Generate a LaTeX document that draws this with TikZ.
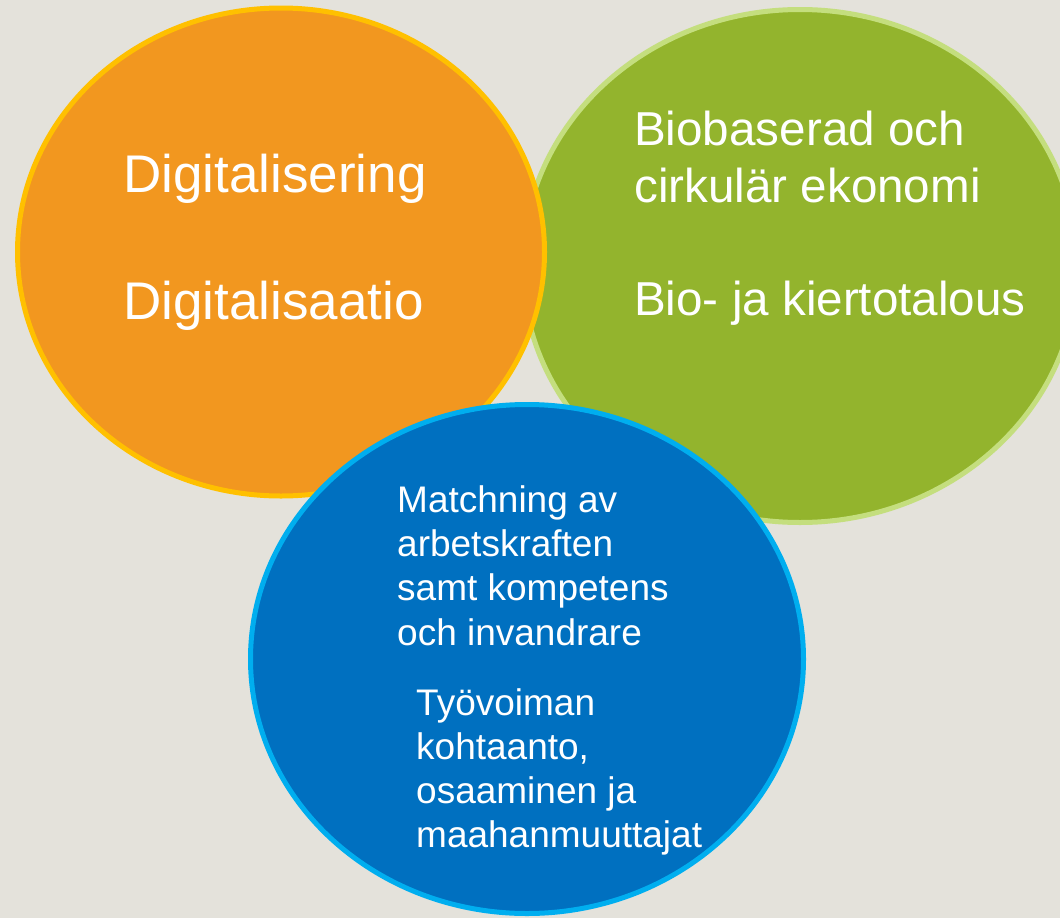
\documentclass[tikz,border=0pt]{standalone}
\usepackage{fontspec}
\setmainfont{Liberation Sans}
\definecolor{bg}{HTML}{E4E2DB}
\definecolor{orfill}{HTML}{F2971F}
\definecolor{orline}{HTML}{FFC000}
\definecolor{grfill}{HTML}{93B42D}
\definecolor{grline}{HTML}{C4DE7E}
\definecolor{blfill}{HTML}{0070C0}
\definecolor{blline}{HTML}{00AEEF}
\tikzset{
  blob/.style={line width=5pt},
  lbl/.style={anchor=base west, inner sep=0pt, text=white},
  big/.style={lbl, font=\fontsize{53}{63}\selectfont},
  mid/.style={lbl, font=\fontsize{47.6}{57}\selectfont},
  small/.style={lbl, font=\fontsize{37}{44}\selectfont}
}
\begin{document}
\begin{tikzpicture}[x=1pt,y=-1pt]
\path[fill=bg] (0,0) rectangle (1060,918);
\useasboundingbox (0,0) rectangle (1060,918);
\begin{scope}
\clip (0,0) rectangle (1060,918);
% green
\path[blob, fill=grfill, draw=grline] (800,266) ellipse [x radius=277.5, y radius=256.5];
% orange
\path[blob, fill=orfill, draw=orline] (281,252) ellipse [x radius=263.5, y radius=244];
% blue
\path[blob, fill=blfill, draw=blline] (527,659) ellipse [x radius=276.5, y radius=254.5];
\end{scope}
% orange texts
\node[big] (o1) at (123,192) {Digitalisering};
\node[big] (o2) at (123,319) {Digitalisaatio};
% green texts
\node[mid] (g1) at (634,145) {Biobaserad och};
\node[mid] (g2) at (634,202) {cirkulär ekonomi};
\node[mid] (g3) at (634,315) {Bio- ja kiertotalous};
% blue texts
\node[small] (b1) at (397,512) {Matchning av};
\node[small] (b2) at (397,556) {arbetskraften};
\node[small] (b3) at (397,600) {samt kompetens};
\node[small] (b4) at (397,645) {och invandrare};
\node[small] (b5) at (416,715) {Työvoiman};
\node[small] (b6) at (416,759) {kohtaanto,};
\node[small] (b7) at (416,803) {osaaminen ja};
\node[small] (b8) at (416,847) {maahanmuuttajat};
\end{tikzpicture}
\end{document}
